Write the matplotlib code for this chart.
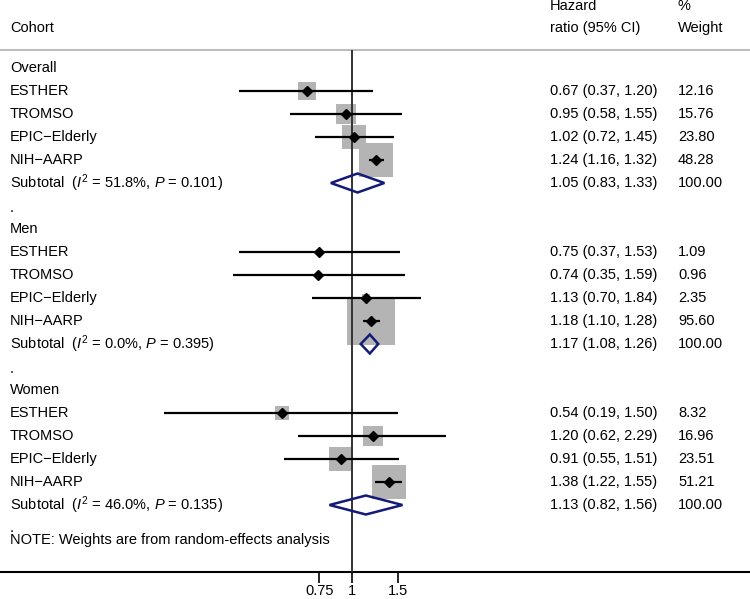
import numpy as np
import matplotlib
matplotlib.use("Agg")
import matplotlib.pyplot as plt
from matplotlib.patches import Polygon
from matplotlib.transforms import blended_transform_factory

plt.rcParams['font.family'] = ['Liberation Sans', 'DejaVu Sans']
plt.rcParams['mathtext.fontset'] = 'custom'
plt.rcParams['mathtext.rm'] = 'Liberation Sans'
plt.rcParams['mathtext.it'] = 'Liberation Sans:italic'

# ---- data ----
groups = ["Overall", "Men", "Women"]
cohorts = ["ESTHER", "TROMSO", "EPIC\u2212Elderly", "NIH\u2212AARP"]

hr = {
    "Overall": [0.67, 0.95, 1.02, 1.24],
    "Men":     [0.75, 0.74, 1.13, 1.18],
    "Women":   [0.54, 1.20, 0.91, 1.38],
}
lo = {
    "Overall": [0.37, 0.58, 0.72, 1.16],
    "Men":     [0.37, 0.35, 0.70, 1.10],
    "Women":   [0.19, 0.62, 0.55, 1.22],
}
hi = {
    "Overall": [1.20, 1.55, 1.45, 1.32],
    "Men":     [1.53, 1.59, 1.84, 1.28],
    "Women":   [1.50, 2.29, 1.51, 1.55],
}
weights = {
    "Overall": [12.16, 15.76, 23.80, 48.28],
    "Men":     [1.09, 0.96, 2.35, 95.60],
    "Women":   [8.32, 16.96, 23.51, 51.21],
}
sub_hr = {"Overall": 1.05, "Men": 1.17, "Women": 1.13}
sub_lo = {"Overall": 0.83, "Men": 1.08, "Women": 0.82}
sub_hi = {"Overall": 1.33, "Men": 1.26, "Women": 1.56}
sub_i2 = {"Overall": "51.8", "Men": "0.0", "Women": "46.0"}
sub_p = {"Overall": "0.101", "Men": "0.395", "Women": "0.135"}

xticks = [0.75, 1, 1.5]
xtick_labels = ["0.75", "1", "1.5"]

# ---- layout ----
W, H = 750, 599
fig = plt.figure(figsize=(W / 100, H / 100), dpi=100)
top_px, bot_px = 50, 572
ax = fig.add_axes([0, (H - bot_px) / H, 1, (bot_px - top_px) / H])
ax.set_xscale('log')
px_per_ln = 113.5
x_one = 352
ax.set_xlim(np.exp(-x_one / px_per_ln), np.exp((W - x_one) / px_per_ln))
ax.set_ylim(bot_px, top_px)
for s in ['left', 'right', 'top']:
    ax.spines[s].set_visible(False)
ax.spines['bottom'].set_linewidth(1.5)
ax.set_yticks([])
ax.set_xticks(xticks)
ax.set_xticklabels(xtick_labels, fontsize=10.5)
ax.xaxis.set_minor_locator(matplotlib.ticker.NullLocator())
ax.tick_params(axis='x', direction='out', length=8, width=1.2, pad=0.5)
ax.patch.set_visible(False)

tr = blended_transform_factory(ax.transAxes, ax.transData)
fs = 10.5
lab_x = 10 / W
hr_x = 550 / W
wt_x = 678 / W

def ytext(txt_x, y, s, **kw):
    ax.text(txt_x, y, s, transform=tr, fontsize=fs, va='center', ha='left',
            clip_on=False, **kw)

# header
ytext(lab_x, 28, "Cohort")
ytext(hr_x, 6, "Hazard")
ytext(hr_x, 28, "ratio (95% CI)")
ytext(wt_x, 6, "%")
ytext(wt_x, 28, "Weight")
ax.plot([0, 1], [top_px, top_px], transform=tr, color='#bdbdbd', lw=1.5,
        clip_on=False)

row0, dy = 68, 23
diam_color = '#141a78'
box_k = 3.52  # points per sqrt(weight)

row = 0
for g in groups:
    ytext(lab_x, row0 + dy * row, g)
    row += 1
    for c, e, l, h, w in zip(cohorts, hr[g], lo[g], hi[g], weights[g]):
        y = row0 + dy * row
        ytext(lab_x, y, c)
        ax.scatter([e], [y], marker='s', s=(box_k ** 2) * w, color='#b4b4b4',
                   linewidths=0, zorder=2)
        ax.plot([l, h], [y, y], color='black', lw=1.6, zorder=4,
                solid_capstyle='butt')
        ax.plot([e], [y], marker='D', color='black', ms=5, zorder=5)
        ytext(hr_x, y, f"{e:.2f} ({l:.2f}, {h:.2f})")
        ytext(wt_x, y, f"{w:.2f}")
        row += 1
    y = row0 + dy * row
    ytext(lab_x, y, "Subtotal  ($I^2$ = " + sub_i2[g] + "%, $P$ = " + sub_p[g] + ")")
    dh = 9.5
    poly = Polygon([(sub_lo[g], y), (sub_hr[g], y - dh), (sub_hi[g], y),
                    (sub_hr[g], y + dh)], closed=True, fill=False,
                   edgecolor=diam_color, lw=1.8, zorder=4)
    ax.add_patch(poly)
    ytext(hr_x, y, f"{sub_hr[g]:.2f} ({sub_lo[g]:.2f}, {sub_hi[g]:.2f})")
    ytext(wt_x, y, "100.00")
    row += 1
    # separator dot row
    ytext(lab_x, row0 + dy * row + (2 if g != groups[-1] else 0), ".")
    row += 1

ytext(lab_x, row0 + dy * (row - 1) + 12, "NOTE: Weights are from random-effects analysis")

# reference line at 1
ax.axvline(1, color='#333333', lw=1.4, zorder=3)

fig.savefig("out.png", dpi=100)
